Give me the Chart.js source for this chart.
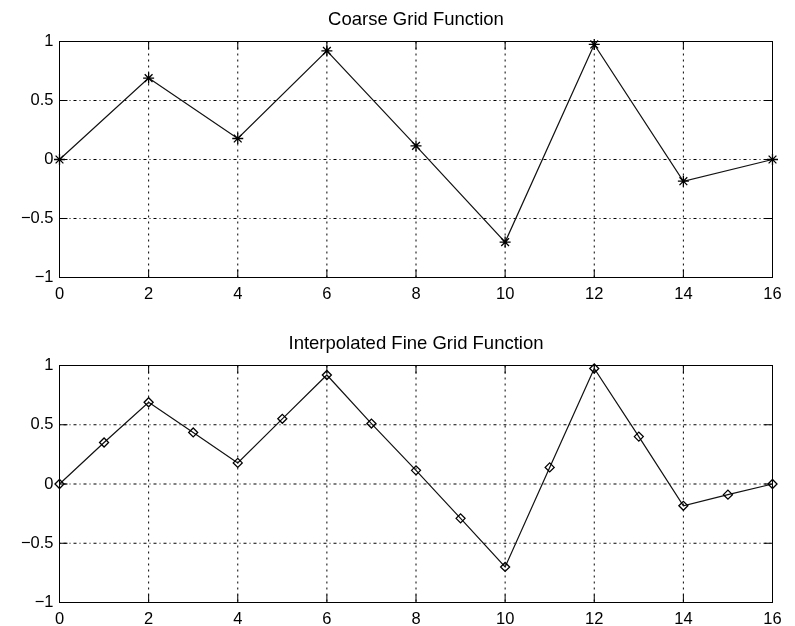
<!DOCTYPE html>
<html>
<head>
<meta charset="utf-8">
<script src="https://cdn.jsdelivr.net/npm/chart.js@4.4.1/dist/chart.umd.min.js"></script>
<style>
  html, body { margin: 0; padding: 0; background: #fff; }
  #wrap { position: relative; width: 795px; height: 626px; overflow: hidden; background: #fff; }
  .panel { position: absolute; left: 0; width: 795px; height: 302px; }
</style>
</head>
<body>
<div id="wrap">
  <div class="panel" style="top:0px"><canvas id="coarse"></canvas></div>
  <div class="panel" style="top:324px"><canvas id="fine"></canvas></div>
</div>
<script>
// Coarse grid samples (every second node)
const coarseX = [0, 2, 4, 6, 8, 10, 12, 14, 16];
const coarseY = [0, 0.69, 0.178, 0.92, 0.115, -0.70, 0.975, -0.184, 0];

// Fine grid values after interpolation
const fineX = [0, 1, 2, 3, 4, 5, 6, 7, 8, 9, 10, 11, 12, 13, 14, 15, 16];
const fineY = [0, 0.35, 0.69, 0.435, 0.178, 0.55, 0.92, 0.51, 0.115, -0.29, -0.70, 0.14, 0.975, 0.40, -0.184, -0.09, 0];

// Axis ticks
const xTicks = [0, 2, 4, 6, 8, 10, 12, 14, 16];
const yTicks = [-1, -0.5, 0, 0.5, 1];
const yTickLabels = ['\u22121', '\u22120.5', '0', '0.5', '1'];

const titles = ['Coarse Grid Function', 'Interpolated Fine Grid Function'];

const FONT = '"Liberation Sans", Arial, Helvetica, sans-serif';
Chart.defaults.font.family = FONT;
Chart.defaults.color = '#000';
Chart.defaults.animation = false;

// Dotted grid, solid box and inward tick marks on all four sides
const frameGrid = {
  id: 'frameGrid',
  beforeDatasetsDraw(chart) {
    const { ctx, chartArea: a, scales } = chart;
    const xs = scales.x, ys = scales.y;
    const tickLen = 8;
    ctx.save();
    ctx.strokeStyle = '#000';
    ctx.lineWidth = 1;

    // vertical grid lines
    ctx.setLineDash([2, 4]);
    xs.ticks.forEach(t => {
      const px = xs.getPixelForValue(t.value);
      if (px <= a.left + 0.5 || px >= a.right - 0.5) return;
      ctx.beginPath();
      ctx.moveTo(px, a.top);
      ctx.lineTo(px, a.bottom);
      ctx.stroke();
    });

    // horizontal grid lines (dash-dot look)
    ctx.setLineDash([1, 3, 3, 3]);
    ys.ticks.forEach(t => {
      const py = ys.getPixelForValue(t.value);
      if (py <= a.top + 0.5 || py >= a.bottom - 0.5) return;
      ctx.beginPath();
      ctx.moveTo(a.left, py);
      ctx.lineTo(a.right, py);
      ctx.stroke();
    });

    // solid frame and inward ticks
    ctx.setLineDash([]);
    ctx.strokeRect(a.left, a.top, a.right - a.left, a.bottom - a.top);
    ctx.beginPath();
    xs.ticks.forEach(t => {
      const px = xs.getPixelForValue(t.value);
      ctx.moveTo(px, a.bottom); ctx.lineTo(px, a.bottom - tickLen);
      ctx.moveTo(px, a.top);    ctx.lineTo(px, a.top + tickLen);
    });
    ys.ticks.forEach(t => {
      const py = ys.getPixelForValue(t.value);
      ctx.moveTo(a.left, py);  ctx.lineTo(a.left + tickLen, py);
      ctx.moveTo(a.right, py); ctx.lineTo(a.right - tickLen, py);
    });
    ctx.stroke();
    ctx.restore();
  }
};

// Axes title, centred over the plot box
const boxTitle = {
  id: 'boxTitle',
  afterDraw(chart, args, opts) {
    const { ctx, chartArea: a } = chart;
    ctx.save();
    ctx.fillStyle = '#000';
    ctx.font = '18.5px ' + FONT;
    ctx.textAlign = 'center';
    ctx.textBaseline = 'middle';
    ctx.fillText(opts.text, (a.left + a.right) / 2, 19.5);
    ctx.restore();
  }
};

function makePanel(canvasId, title, xs, ys, marker, radius, xAxisHeight) {
  const points = xs.map((x, i) => ({ x: x, y: ys[i] }));
  return new Chart(document.getElementById(canvasId), {
    type: 'line',
    data: {
      datasets: [{
        data: points,
        borderColor: '#111',
        borderWidth: 1.2,
        tension: 0,
        fill: false,
        clip: false,
        pointStyle: marker,
        pointRadius: radius,
        pointBorderColor: '#000',
        pointBackgroundColor: 'rgba(0,0,0,0)',
        pointBorderWidth: 1.3
      }]
    },
    options: {
      responsive: true,
      maintainAspectRatio: false,
      layout: { padding: { left: 0, right: 22.5, top: 41.5, bottom: 0 } },
      plugins: {
        legend: { display: false },
        tooltip: { enabled: false },
        title: { display: false },
        boxTitle: { text: title }
      },
      scales: {
        x: {
          type: 'linear',
          min: 0, max: 16,
          afterBuildTicks: s => { s.ticks = xTicks.map(v => ({ value: v })); },
          afterFit: s => { s.height = xAxisHeight; },
          grid: { display: false, drawTicks: false },
          border: { display: false },
          ticks: { autoSkip: false, maxRotation: 0, padding: 7, font: { size: 16.5 }, color: '#000' }
        },
        y: {
          type: 'linear',
          min: -1, max: 1,
          afterBuildTicks: s => { s.ticks = yTicks.map(v => ({ value: v })); },
          afterFit: s => { s.width = 59.5; },
          grid: { display: false, drawTicks: false },
          border: { display: false },
          ticks: {
            padding: 6,
            font: { size: 16.5 },
            color: '#000',
            callback: v => yTickLabels[yTicks.indexOf(v)]
          }
        }
      }
    },
    plugins: [frameGrid, boxTitle]
  });
}

makePanel('coarse', titles[0], coarseX, coarseY, 'star', 5.5, 24.5);
makePanel('fine', titles[1], fineX, fineY, 'rectRot', 4.5, 23.5);
</script>
</body>
</html>
